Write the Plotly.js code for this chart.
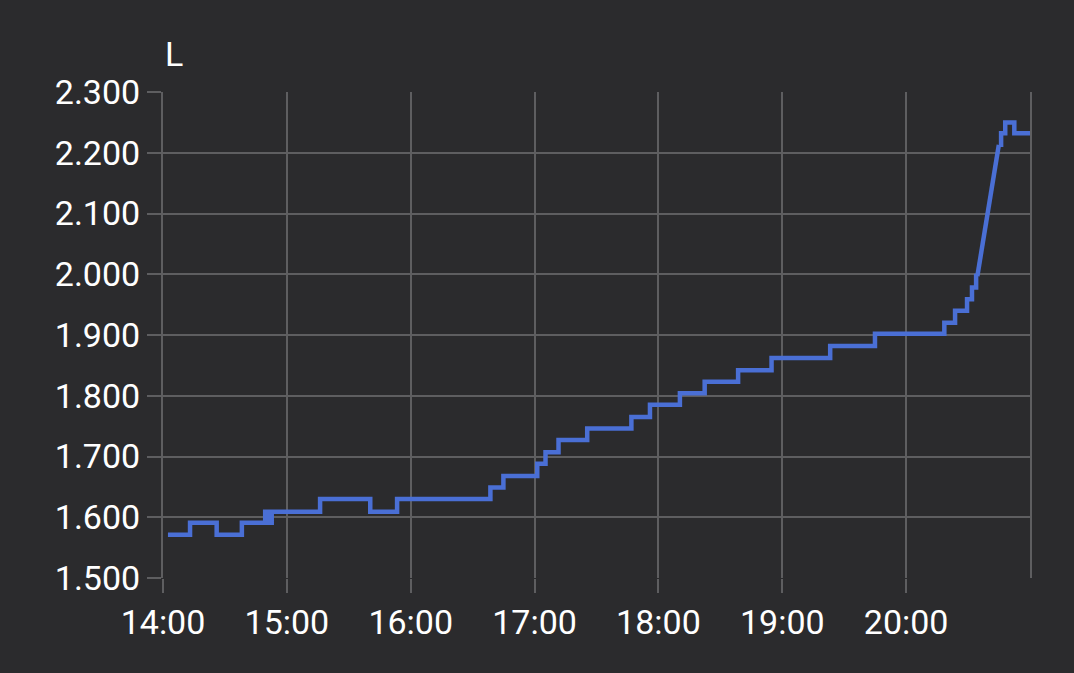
<!DOCTYPE html>
<html>
<head>
<meta charset="utf-8">
<script src="https://cdn.plot.ly/plotly-3.0.1.min.js"></script>
<style>
html,body{margin:0;padding:0;background:#2b2b2d;}
#chart{width:1074px;height:673px;}
</style>
</head>
<body>
<div id="chart"></div>
<script>
const DAY = '2024-01-01 ';
// Step segment (before the steep rise)
const stepTimes1 = ['14:02:24','14:13:06','14:26:00','14:38:12','14:49:30','14:50:15','14:51:00','14:51:45','14:52:40',
  '15:16:06','15:40:24','15:53:24','16:38:36','16:44:54','17:01:18','17:05:18','17:11:36','17:25:30',
  '17:46:54','17:55:54','18:10:24','18:22:24','18:38:36','18:54:48','19:23:12','19:44:54',
  '20:18:30','20:23:42','20:29:30','20:31:54','20:33:54','20:34:30'];
const stepValues1 = [1.571,1.591,1.571,1.591,1.609,1.591,1.609,1.591,1.609,
  1.630,1.609,1.630,1.649,1.668,1.688,1.707,1.727,1.746,
  1.765,1.785,1.804,1.823,1.842,1.862,1.882,1.902,
  1.920,1.940,1.959,1.978,1.997,1.997];
// Steep rise
const rampTimes = ['20:34:30','20:44:54'];
const rampValues = [1.997,2.213];
// Step segment after the rise
const stepTimes2 = ['20:44:54','20:46:00','20:48:00','20:52:24','21:00:00'];
const stepValues2 = [2.213,2.232,2.250,2.232,2.232];

const xTicks = ['14:00','15:00','16:00','17:00','18:00','19:00','20:00'];
const xTickText = ['14:00','15:00','16:00','17:00','18:00','19:00','20:00'];
const yTicks = [1.5,1.6,1.7,1.8,1.9,2.0,2.1,2.2,2.3];
const unitLabel = 'L';

const LINE = '#4a6fd5';
const GRID = '#5e5e60';
const BG = '#2b2b2d';
const FONT = {family:'Roboto, sans-serif', size:34, color:'#ffffff'};

const d = a => a.map(t => DAY + t);
const lineStyle = {color: LINE, width: 4.5};

const traces = [
  {x: d(stepTimes1), y: stepValues1, type:'scatter', mode:'lines', line: Object.assign({shape:'hv'}, lineStyle), hoverinfo:'skip'},
  {x: d(rampTimes), y: rampValues, type:'scatter', mode:'lines', line: Object.assign({shape:'linear'}, lineStyle), hoverinfo:'skip'},
  {x: d(stepTimes2), y: stepValues2, type:'scatter', mode:'lines', line: Object.assign({shape:'hv'}, lineStyle), hoverinfo:'skip'}
];

const layout = {
  width:1074, height:673,
  paper_bgcolor: BG, plot_bgcolor: BG,
  font: FONT,
  showlegend:false,
  margin:{l:163, r:44, t:92, b:95},
  xaxis:{
    type:'date',
    range:[DAY+'14:00', DAY+'21:00'],
    tickmode:'array',
    tickvals: d(xTicks),
    ticktext: xTickText,
    showgrid:true, gridcolor:GRID, gridwidth:2,
    ticks:'outside', ticklen:14, tickcolor:GRID, tickwidth:2,
    zeroline:false, showline:false,
    tickfont: FONT
  },
  yaxis:{
    range:[1.5, 2.3],
    tickmode:'array',
    tickvals: yTicks,
    ticktext: yTicks.map(v => v.toFixed(3)),
    showgrid:true, gridcolor:GRID, gridwidth:2,
    ticks:'outside', ticklen:14, tickcolor:GRID, tickwidth:2,
    zeroline:false, showline:true, mirror:true, linecolor:GRID, linewidth:2,
    tickfont: FONT
  },
  annotations:[{
    text: unitLabel, xref:'paper', yref:'paper', x:0, y:1,
    xanchor:'left', yanchor:'bottom', showarrow:false, yshift:16,
    font: FONT
  }]
};

Plotly.newPlot('chart', traces, layout, {staticPlot:true, displayModeBar:false});
</script>
</body>
</html>
